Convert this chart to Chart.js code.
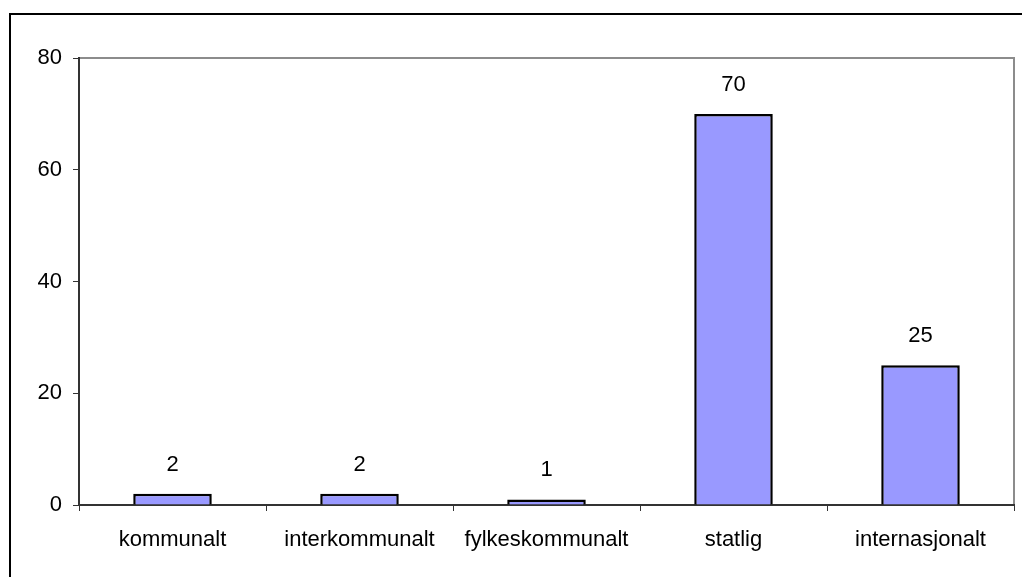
<!DOCTYPE html>
<html>
<head>
<meta charset="utf-8">
<script src="https://cdn.jsdelivr.net/npm/chart.js@4"></script>
<style>
  body { margin: 0; background: #fff; overflow: hidden; }
  #wrap { position: relative; width: 1022px; height: 577px; }
  #frame { position: absolute; left: 9px; top: 13px; width: 1030px; height: 600px; border: 2px solid #000; box-sizing: border-box; }
  canvas { position: absolute; left: 0; top: 0; }
</style>
</head>
<body>
<div id="wrap">
  <div id="frame"></div>
  <canvas id="chart" width="1022" height="577"></canvas>
</div>
<script>
const categories = ["kommunalt", "interkommunalt", "fylkeskommunalt", "statlig", "internasjonalt"];
const values = [2, 2, 1, 70, 25];
const yTicks = [0, 20, 40, 60, 80];

const font = { family: "'Liberation Sans', Arial, sans-serif", size: 22 };

// grå ramme rundt plottområdet (topp og høyre)
const plotFrame = {
  id: "plotFrame",
  beforeDraw(chart) {
    const { ctx, chartArea: a } = chart;
    ctx.save();
    ctx.strokeStyle = "#8c8c8c";
    ctx.lineWidth = 2;
    ctx.beginPath();
    ctx.moveTo(a.left, a.top);
    ctx.lineTo(a.right, a.top);
    ctx.lineTo(a.right, a.bottom);
    ctx.stroke();
    ctx.restore();
  },
};

// verdier over søylene
const valueLabels = {
  id: "valueLabels",
  afterDatasetsDraw(chart) {
    const ctx = chart.ctx;
    const meta = chart.getDatasetMeta(0);
    ctx.save();
    ctx.fillStyle = "#000";
    ctx.font = font.size + "px " + font.family;
    ctx.textAlign = "center";
    ctx.textBaseline = "middle";
    meta.data.forEach((bar, i) => {
      ctx.fillText(String(values[i]), bar.x, bar.y - 29);
    });
    ctx.restore();
  },
};

new Chart(document.getElementById("chart").getContext("2d"), {
  type: "bar",
  data: {
    labels: categories,
    datasets: [
      {
        data: values,
        backgroundColor: "#9999ff",
        borderColor: "#000",
        borderWidth: 2.5,
        barPercentage: 0.42,
        categoryPercentage: 1,
      },
    ],
  },
  options: {
    responsive: false,
    animation: false,
    layout: { padding: { left: 0, top: 58, right: 8, bottom: 0 } },
    plugins: { legend: { display: false }, tooltip: { enabled: false } },
    scales: {
      x: {
        offset: true,
        grid: { offset: true, drawOnChartArea: false, tickLength: 6, color: "#333", lineWidth: 1 },
        border: { color: "#333", width: 2 },
        ticks: { color: "#000", font: font, padding: 16, maxRotation: 0, autoSkip: false },
        afterFit(scale) { scale.height = 72; },
      },
      y: {
        min: 0,
        max: 80,
        afterBuildTicks(scale) { scale.ticks = yTicks.map((v) => ({ value: v })); },
        grid: { drawOnChartArea: false, tickLength: 6, color: "#333", lineWidth: 1 },
        border: { color: "#333", width: 2 },
        ticks: { color: "#000", font: font, padding: 11 },
        afterFit(scale) { scale.width = 79; },
      },
    },
  },
  plugins: [plotFrame, valueLabels],
});
</script>
</body>
</html>
